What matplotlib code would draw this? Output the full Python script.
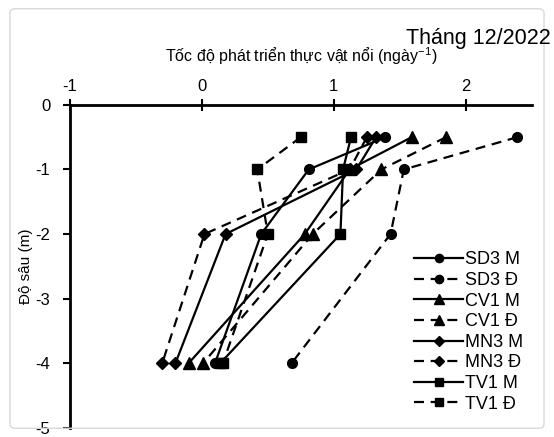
import numpy as np
import matplotlib
matplotlib.use('Agg')
from matplotlib import pyplot as plt
from matplotlib.patches import FancyBboxPatch

plt.rcParams['font.family'] = ['Liberation Sans', 'DejaVu Sans']
plt.rcParams['axes.unicode_minus'] = False
plt.rcParams['mathtext.default'] = 'regular'

# depth (m) and growth rate (day^-1) per station / tide
depth = [-0.5, -1, -2, -4]
sd3_m = [1.39, 0.81, 0.45, 0.10]
sd3_d = [2.39, 1.53, 1.43, 0.68]
cv1_m = [1.59, 1.12, 0.78, -0.10]
cv1_d = [1.85, 1.36, 0.84, 0.01]
mn3_m = [1.32, 1.17, 0.18, -0.20]
mn3_d = [1.25, 1.12, 0.02, -0.30]
tv1_m = [1.13, 1.07, 1.05, 0.14]
tv1_d = [0.75, 0.42, 0.50, 0.16]

series = [
    ('SD3 M', sd3_m, 'o', '-'),
    ('SD3 Đ', sd3_d, 'o', '--'),
    ('CV1 M', cv1_m, '^', '-'),
    ('CV1 Đ', cv1_d, '^', '--'),
    ('MN3 M', mn3_m, 'D', '-'),
    ('MN3 Đ', mn3_d, 'D', '--'),
    ('TV1 M', tv1_m, 's', '-'),
    ('TV1 Đ', tv1_d, 's', '--'),
]
msize = {'o': 7, '^': 8, 'D': 6.5, 's': 7}

fig = plt.figure(figsize=(5.54, 4.37), dpi=100)
fig.patches.append(FancyBboxPatch((0.018, 0.02), 0.964, 0.96, boxstyle='round,pad=0,rounding_size=0.01',
                                  transform=fig.transFigure, facecolor='none', edgecolor='#d9d9d9', lw=1))
ax = fig.add_axes([0.126, 0.021, 0.834, 0.739])

for name, vals, mk, ls in series:
    ax.plot(vals, depth, color='black', linestyle=ls, marker=mk, markersize=msize[mk],
            lw=1.6, label=name, dashes=(4.5, 3) if ls == '--' else (None, None))

ax.set_xlim(-1, 2.5)
ax.set_ylim(-5, 0)
ax.set_xticks([-1, 0, 1, 2])
ax.set_yticks([0, -1, -2, -3, -4, -5])
ax.xaxis.tick_top()
ax.xaxis.set_label_position('top')
for s in ['right', 'bottom']:
    ax.spines[s].set_visible(False)
for s in ['left', 'top']:
    ax.spines[s].set_linewidth(2)
ax.tick_params(axis='x', direction='inout', length=8, width=1.5, labelsize=12, pad=4)
ax.tick_params(axis='y', direction='out', length=5, width=1.5, labelsize=12, pad=9)
ax.set_xlabel('Tốc độ phát triển thực vật nổi (ngày$^{-1}$)', fontsize=11.5, labelpad=12)
ax.set_ylabel('Độ sâu (m)', fontsize=11, labelpad=2)

fig.text(0.995, 0.912, 'Tháng 12/2022', fontsize=15.5, ha='right', va='center')

ax.legend(loc='lower right', bbox_to_anchor=(0.96, 0.035), bbox_transform=fig.transFigure,
          frameon=False, fontsize=13, handlelength=2.7, labelspacing=0.2, handletextpad=0.1,
          borderpad=0, markerscale=0.85)

fig.savefig('out.png', dpi=100)
